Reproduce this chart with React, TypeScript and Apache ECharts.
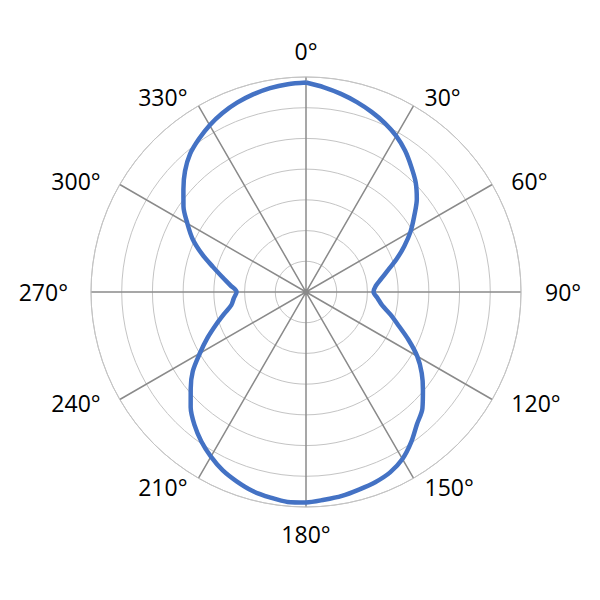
import React, { useEffect, useRef } from "react";
import * as echarts from "echarts";

const angles: number[] = [
  0, 5, 10, 15, 20, 25, 30, 35, 40, 45, 50, 55, 60, 65, 70, 75, 80, 85,
  90, 95, 100, 105, 110, 115, 120, 125, 130, 135, 140, 145, 150, 155, 160, 165, 170, 175,
  180, 185, 190, 195, 200, 205, 210, 215, 220, 225, 230, 235, 240, 245, 250, 255, 260, 265,
  270, 275, 280, 285, 290, 295, 300, 305, 310, 315, 320, 325, 330, 335, 340, 345, 350, 355, 360,
];

const radii: number[] = [
  6.82, 6.69, 6.55, 6.4, 6.24, 6.07, 5.87, 5.62, 5.33, 5.05, 4.71, 4.3, 3.93, 3.53, 3.14, 2.77, 2.49, 2.28,
  2.2, 2.34, 2.52, 2.85, 3.21, 3.68, 4.18, 4.6, 4.97, 5.36, 5.62, 5.97, 6.28, 6.48, 6.59, 6.66, 6.74, 6.79,
  6.85, 6.86, 6.79, 6.71, 6.57, 6.41, 6.19, 5.94, 5.65, 5.31, 4.9, 4.5, 3.99, 3.54, 3.12, 2.76, 2.47, 2.36,
  2.26, 2.47, 2.76, 3.13, 3.6, 4.07, 4.46, 4.87, 5.21, 5.57, 5.87, 6.08, 6.27, 6.43, 6.56, 6.66, 6.74, 6.79, 6.82,
];

const angleTicks: number[] = [0, 30, 60, 90, 120, 150, 180, 210, 240, 270, 300, 330];
const radiusMax = 7;
const angleStep = 30;

// label padding [top, right, bottom, left] per tick angle (layout only)
const labelPad: Record<number, number[]> = {
  0: [0, 0, 31, 0],
  30: [0, 0, 11, 19],
  60: [0, 0, 0, 33],
  90: [0, 0, 0, 40],
  120: [0, 0, 0, 33],
  150: [11, 0, 0, 19],
  180: [31, 0, 0, 0],
  210: [11, 19, 0, 0],
  240: [0, 33, 0, 0],
  270: [0, 39, 0, 0],
  300: [0, 33, 0, 0],
  330: [0, 0, 11, 0].map((v, i) => (i === 1 ? 19 : v)),
};

export default function App() {
  const ref = useRef<HTMLDivElement>(null);
  useEffect(() => {
    if (!ref.current) return;
    const chart = echarts.init(ref.current, null, { renderer: "svg" });
    const data = angles.map((a, i) => [radii[i], a]);
    const rich: Record<string, any> = {};
    angleTicks.forEach((t) => {
      rich["a" + t] = {
        padding: labelPad[t],
        fontSize: 23,
        fontFamily: "Open Sans",
        color: "#000000",
      };
    });
    chart.setOption({
      animation: false,
      backgroundColor: "#ffffff",
      polar: { center: [306, 292], radius: 215 },
      angleAxis: {
        type: "value",
        min: 0,
        max: 360,
        interval: angleStep,
        startAngle: 90,
        clockwise: true,
        axisLine: { show: true, lineStyle: { color: "#c4c4c4", width: 1 } },
        axisTick: { show: false },
        axisLabel: {
          show: true,
          margin: -16,
          formatter: (v: number) =>
            angleTicks.indexOf(v) >= 0 ? "{a" + v + "|" + v + "°}" : "",
          rich,
          color: "#000000",
          fontSize: 23,
          fontFamily: "Open Sans",
        },
        splitLine: { show: true, lineStyle: { color: "#8a8a8a", width: 1.5 } },
      },
      radiusAxis: {
        type: "value",
        min: 0,
        max: radiusMax,
        interval: 1,
        axisLine: { show: false },
        axisTick: { show: false },
        axisLabel: { show: false },
        splitLine: { show: true, lineStyle: { color: "#c4c4c4", width: 1 } },
      },
      series: [
        {
          type: "line",
          coordinateSystem: "polar",
          data,
          showSymbol: false,
          smooth: 0.3,
          lineStyle: { color: "#4472C4", width: 4.5 },
        },
      ],
    });
    return () => chart.dispose();
  }, []);
  return (
    <div
      ref={ref}
      style={{ position: "fixed", left: 0, top: 0, width: 600, height: 600, background: "#fff" }}
    />
  );
}
